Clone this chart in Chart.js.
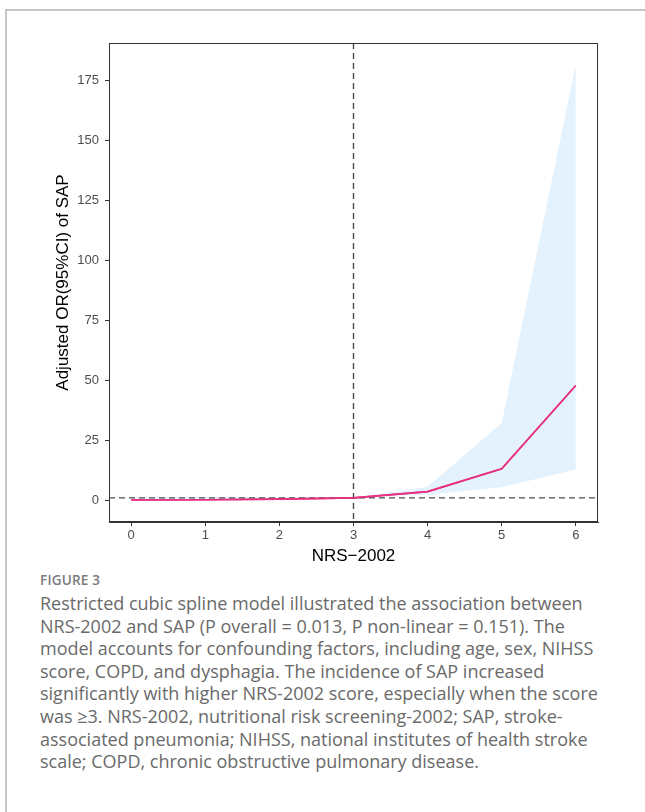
<!DOCTYPE html>
<html>
<head>
<meta charset="utf-8">
<script src="https://cdn.jsdelivr.net/npm/chart.js@4.4.1/dist/chart.umd.min.js"></script>
<style>
  html, body { margin: 0; padding: 0; background: #ffffff; }
  body { width: 645px; height: 812px; position: relative; overflow: hidden; }
  #frame { position: absolute; left: 5px; top: 9px; width: 700px; height: 900px;
           border-top: 2px solid #c6c6c6; border-left: 2px solid #c6c6c6; box-sizing: border-box; }
  #chart { position: absolute; left: 0; top: 0; }
  #figlabel { position: absolute; left: 40px; top: 571px; font-family: "Open Sans", sans-serif;
              font-size: 13.5px; font-weight: 600; color: #7a7a7a; letter-spacing: 0.2px; line-height: 18px; }
  #caption { position: absolute; left: 40px; top: 592px; font-family: "Open Sans", sans-serif;
             font-size: 18px; color: #6a6a6a; line-height: 22.6px; white-space: nowrap; }
</style>
</head>
<body>
<div id="frame"></div>
<canvas id="chart" width="645" height="570"></canvas>
<div id="figlabel">FIGURE 3</div>
<div id="caption">Restricted cubic spline model illustrated the association between<br>NRS-2002 and SAP (P overall = 0.013, P non-linear = 0.151). The<br>model accounts for confounding factors, including age, sex, NIHSS<br>score, COPD, and dysphagia. The incidence of SAP increased<br>significantly with higher NRS-2002 score, especially when the score<br>was ≥3. NRS-2002, nutritional risk screening-2002; SAP, stroke-<br>associated pneumonia; NIHSS, national institutes of health stroke<br>scale; COPD, chronic obstructive pulmonary disease.</div>
<script>
// ---- data ----
const nrsScores = [0, 1, 2, 3, 4, 5, 6];
const adjustedOR = [0.12, 0.22, 0.45, 1.0, 3.6, 13.1, 47.8];
const ciLower = [0.0, 0.03, 0.15, 1.0, 2.3, 5.4, 12.8];
const ciUpper = [1.1, 1.3, 1.3, 1.0, 5.6, 32.2, 181.5];
const xTicks = [0, 1, 2, 3, 4, 5, 6];
const yTicks = [0, 25, 50, 75, 100, 125, 150, 175];
const refX = 3;
const refY = 1;
const xTitle = "NRS\u22122002";
const yTitle = "Adjusted OR(95%CI) of SAP";

// ggplot-like 5% expansion
const xMin = Math.min(...nrsScores), xMax = Math.max(...nrsScores);
const yMin = Math.min(...ciLower), yMax = Math.max(...ciUpper);
const xPad = (xMax - xMin) * 0.05, yPad = (yMax - yMin) * 0.05;

const pts = (ys) => nrsScores.map((x, i) => ({ x: x, y: ys[i] }));

const refLines = {
  id: 'refLines',
  afterDatasetsDraw(chart) {
    const { ctx, chartArea: a, scales } = chart;
    ctx.save();
    ctx.strokeStyle = '#4d4d4d';
    ctx.lineWidth = 1.4;
    ctx.setLineDash([6, 4]);
    const py = scales.y.getPixelForValue(refY);
    ctx.beginPath(); ctx.moveTo(a.left, py); ctx.lineTo(a.right, py); ctx.stroke();
    const px = scales.x.getPixelForValue(refX);
    ctx.beginPath(); ctx.moveTo(px, a.top); ctx.lineTo(px, a.bottom); ctx.stroke();
    ctx.restore();
    // redraw the OR line on top of the reference lines
    const meta = chart.getDatasetMeta(0);
    ctx.save();
    ctx.beginPath();
    meta.data.forEach((p, i) => { if (i === 0) ctx.moveTo(p.x, p.y); else ctx.lineTo(p.x, p.y); });
    ctx.strokeStyle = '#E8307F';
    ctx.lineWidth = 1.6;
    ctx.stroke();
    ctx.restore();
    // panel box
    ctx.save();
    ctx.strokeStyle = '#333333';
    ctx.lineWidth = 1;
    ctx.strokeRect(Math.round(a.left) + 0.5, Math.round(a.top) + 0.5,
                   Math.round(a.right - a.left) - 1, Math.round(a.bottom - a.top) - 1);
    ctx.restore();
  }
};

new Chart(document.getElementById('chart'), {
  type: 'line',
  data: {
    datasets: [
      { label: 'OR', data: pts(adjustedOR), borderColor: '#E8307F', borderWidth: 1.6,
        pointRadius: 0, tension: 0, fill: false },
      { label: 'upper', data: pts(ciUpper), borderColor: 'rgba(0,0,0,0)', borderWidth: 0,
        pointRadius: 0, tension: 0, fill: '+1', backgroundColor: '#E3F2FD' },
      { label: 'lower', data: pts(ciLower), borderColor: 'rgba(0,0,0,0)', borderWidth: 0,
        pointRadius: 0, tension: 0, fill: false }
    ]
  },
  options: {
    responsive: false,
    animation: false,
    devicePixelRatio: 1,
    layout: { padding: { top: 43, right: 47, left: 0, bottom: 0 } },
    plugins: { legend: { display: false }, tooltip: { enabled: false } },
    scales: {
      x: {
        type: 'linear', min: xMin - xPad, max: xMax + xPad,
        afterBuildTicks: (s) => { s.ticks = xTicks.map(v => ({ value: v })); },
        afterFit: (s) => { s.height = 48; },
        grid: { display: true, drawOnChartArea: false, drawTicks: true, tickLength: 4,
                color: '#333333', tickColor: '#333333' },
        border: { display: true, color: '#333333' },
        ticks: { color: '#4d4d4d', font: { family: 'Liberation Sans, Arial, sans-serif', size: 13 },
                 padding: 2, maxRotation: 0, autoSkip: false, callback: (v) => String(v) },
        title: { display: true, text: xTitle, color: '#000000',
                 font: { family: 'Liberation Sans, Arial, sans-serif', size: 17 },
                 padding: { top: 0, bottom: 3 } }
      },
      y: {
        type: 'linear', min: yMin - yPad, max: yMax + yPad,
        afterBuildTicks: (s) => { s.ticks = yTicks.map(v => ({ value: v })); },
        afterFit: (s) => { s.width = 109; },
        grid: { display: true, drawOnChartArea: false, drawTicks: true, tickLength: 4,
                color: '#333333', tickColor: '#333333' },
        border: { display: true, color: '#333333' },
        ticks: { color: '#4d4d4d', font: { family: 'Liberation Sans, Arial, sans-serif', size: 13 },
                 padding: 6, autoSkip: false, callback: (v) => String(v) },
        title: { display: true, text: yTitle, color: '#000000',
                 font: { family: 'Liberation Sans, Arial, sans-serif', size: 17 },
                 padding: { top: 53, bottom: 0 } }
      }
    }
  },
  plugins: [refLines]
});
</script>
</body>
</html>
